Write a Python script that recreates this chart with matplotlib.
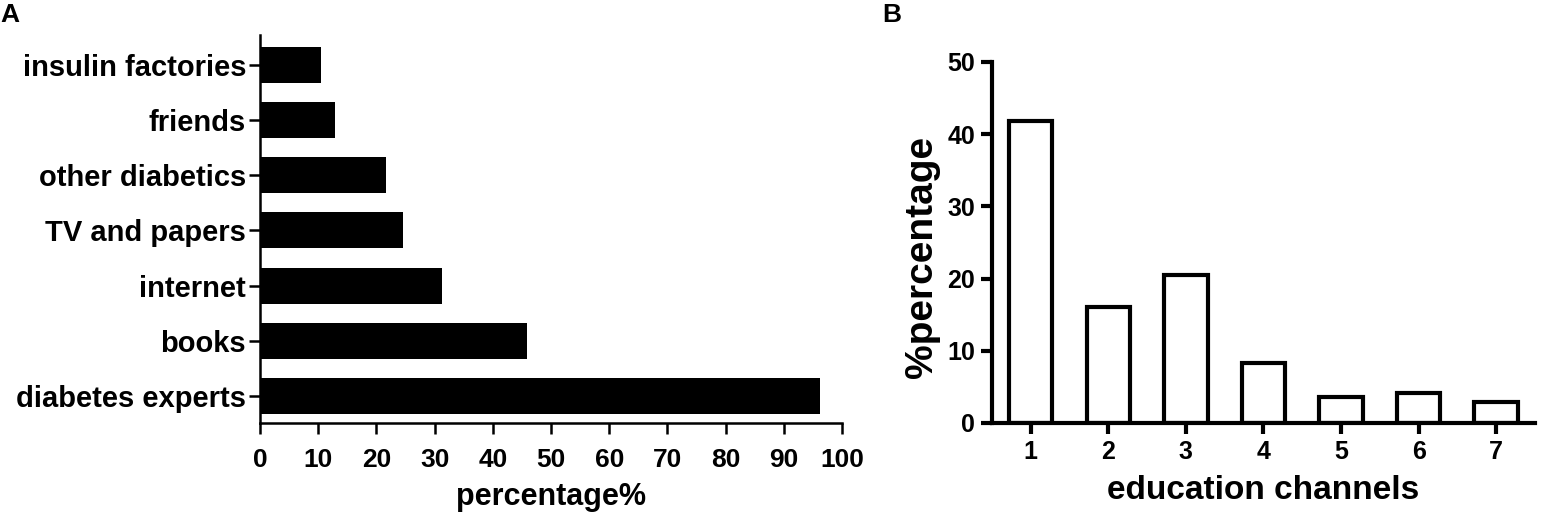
import matplotlib
matplotlib.use("Agg")
from matplotlib import pyplot as plt

# panel A: sources of information
sources = ["diabetes experts", "books", "internet", "TV and papers",
           "other diabetics", "friends", "insulin factories"]
source_pct = [96.2, 45.9, 31.2, 24.6, 21.7, 12.9, 10.5]
a_ticks = list(range(0, 101, 10))

# panel B: education channels
channels = [1, 2, 3, 4, 5, 6, 7]
channel_pct = [41.8, 16.1, 20.5, 8.3, 3.6, 4.1, 2.9]
b_ticks = [0, 10, 20, 30, 40, 50]

plt.rcParams['font.family'] = ['Liberation Sans', 'DejaVu Sans']
plt.rcParams['font.weight'] = 'bold'

fig = plt.figure(figsize=(15.43, 5.21), dpi=100)

# ---- A ----
ax1 = fig.add_axes([0.1685, 0.1881, 0.3772, 0.7447])
ax1.barh(range(len(sources)), source_pct, height=0.65, color='black')
ax1.set_yticks(range(len(sources)))
ax1.set_yticklabels(sources, fontsize=21, fontweight='bold')
ax1.set_xticks(a_ticks)
ax1.set_xticklabels([str(t) for t in a_ticks], fontsize=19, fontweight='bold')
ax1.set_xlim(0, 100)
ax1.set_ylim(-0.49, 6.54)
ax1.set_xlabel('percentage%', fontsize=22, fontweight='bold', labelpad=7)
for s in ['top', 'right']:
    ax1.spines[s].set_visible(False)
for s in ['left', 'bottom']:
    ax1.spines[s].set_linewidth(1.8)
ax1.tick_params(axis='y', width=1.8, length=8, pad=2)
ax1.tick_params(axis='x', width=1.8, length=8, pad=10)

# ---- B ----
ax2 = fig.add_axes([0.6429, 0.1881, 0.3519, 0.6929])
ax2.bar(channels, channel_pct, width=0.56, facecolor='white',
        edgecolor='black', linewidth=3)
ax2.set_xticks(channels)
ax2.set_xticklabels([str(c) for c in channels], fontsize=18, fontweight='bold')
ax2.set_yticks(b_ticks)
ax2.set_yticklabels([str(t) for t in b_ticks], fontsize=18, fontweight='bold')
ax2.set_xlim(0.5, 7.5)
ax2.set_ylim(0, 50)
ax2.set_xlabel('education channels', fontsize=24, fontweight='bold', labelpad=8)
ax2.set_ylabel('%percentage', fontsize=28, fontweight='bold')
ax2.yaxis.set_label_coords(-0.096, 0.46)
for s in ['top', 'right']:
    ax2.spines[s].set_visible(False)
for s in ['left', 'bottom']:
    ax2.spines[s].set_linewidth(3)
ax2.tick_params(axis='both', width=3, length=8, pad=4)

fig.text(0.0, 0.995, 'A', fontsize=19, fontweight='bold', va='top', ha='left')
fig.text(0.572, 0.995, 'B', fontsize=19, fontweight='bold', va='top', ha='left')

plt.savefig('out.png', dpi=100)
